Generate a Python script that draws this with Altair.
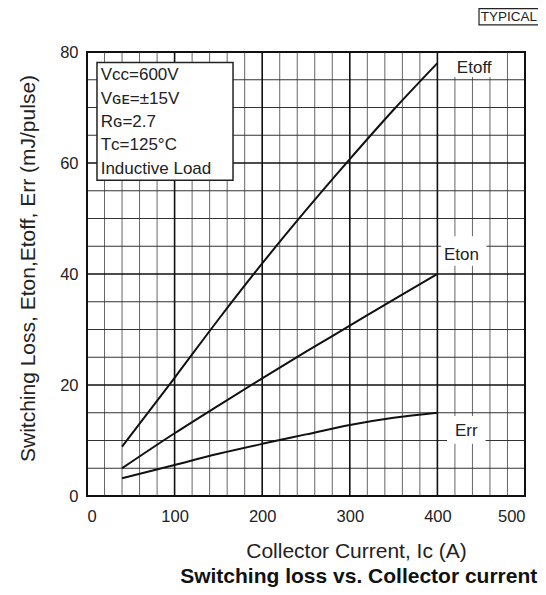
import altair as alt
import pandas as pd

# ---- data ----
current = [40, 100, 150, 200, 250, 300, 350, 400]
etoff = [8.9, 21.3, 31.8, 41.9, 51.5, 60.7, 69.6, 78.0]
eton = [5.0, 11.3, 16.3, 21.2, 26.0, 30.7, 35.4, 40.0]
err = [3.2, 5.6, 7.6, 9.4, 11.1, 12.8, 14.1, 15.0]

x_minor = [v for v in range(0, 501, 20) if v % 100 != 0]
x_major = [0, 100, 200, 300, 400, 500]
y_minor = [v for v in range(0, 81, 5) if v % 20 != 0]
y_major = [0, 20, 40, 60, 80]
x_ticks = [0, 100, 200, 300, 400, 500]
y_ticks = [0, 20, 40, 60, 80]

cond_lines = ["V\u1d04\u1d04=600V", "V\u0262\u1d07=\u00b115V", "R\u0262=2.7",
              "T\u1d04=125\u00b0C", "Inductive Load"]
cond_y = [75.9, 71.6, 67.4, 63.2, 58.9]

curve_names = ["Etoff", "Eton", "Err"]
label_x = [442.0, 427.5, 433.0]
label_y = [77.2, 43.4, 11.8]
box_x = [418, 404, 411]
box_x2 = [470, 456, 455]
box_y = [75.5, 41.5, 9.4]
box_y2 = [79.8, 46.8, 14.4]

FONT = "Liberation Sans"

xs = alt.Scale(domain=[0, 500], nice=False, zero=False)
ys = alt.Scale(domain=[0, 80], nice=False, zero=False)

x_axis = alt.Axis(values=x_ticks, grid=False, ticks=False, domain=False,
                  labelFont=FONT, labelFontSize=16.5, labelColor="#222",
                  labelPadding=12,
                  title="Collector Current, I\u1d04 (A)",
                  titleFont=FONT, titleFontSize=21, titleFontWeight="normal",
                  titleColor="#222", titleX=269, titleY=55,
                  titleBaseline="middle", titleAlign="center")
y_axis = alt.Axis(values=y_ticks, grid=False, ticks=False, domain=False,
                  labelFont=FONT, labelFontSize=16.5, labelColor="#222",
                  labelPadding=9,
                  title="Switching Loss, Eton,Etoff, Err (mJ/pulse)",
                  titleFont=FONT, titleFontSize=21, titleFontWeight="normal",
                  titleColor="#222", titleAngle=270, titleX=-59, titleY=216,
                  titleBaseline="middle", titleAlign="center")


def X(field):
    return alt.X(field, type="quantitative", scale=xs, axis=x_axis)


def Y(field):
    return alt.Y(field, type="quantitative", scale=ys, axis=y_axis)


rows = []
for name, vals in zip(curve_names, [etoff, eton, err]):
    for c, v in zip(current, vals):
        rows.append({"curve": name, "Ic": c, "E": v})
curves_df = pd.DataFrame(rows)

vminor = alt.Chart(pd.DataFrame({"v": x_minor})).mark_rule(color="#666", strokeWidth=1).encode(x=X("v"))
vmajor = alt.Chart(pd.DataFrame({"v": x_major})).mark_rule(color="#111", strokeWidth=1.6).encode(x=X("v"))
hminor = alt.Chart(pd.DataFrame({"v": y_minor})).mark_rule(color="#333", strokeWidth=1.2).encode(y=Y("v"))
hmajor = alt.Chart(pd.DataFrame({"v": y_major})).mark_rule(color="#111", strokeWidth=1.6).encode(y=Y("v"))

lines = alt.Chart(curves_df).mark_line(color="#111", strokeWidth=2, interpolate="monotone").encode(
    x=X("Ic"), y=Y("E"), detail="curve:N")

lab_df = pd.DataFrame({"name": curve_names, "x": label_x, "y": label_y,
                       "bx": box_x, "bx2": box_x2, "by": box_y, "by2": box_y2})
lab_boxes = alt.Chart(lab_df).mark_rect(color="white").encode(
    x=X("bx"), x2="bx2:Q", y=Y("by"), y2="by2:Q")
lab_text = alt.Chart(lab_df).mark_text(font=FONT, fontSize=17, color="#222", align="center",
                                       baseline="middle").encode(
    x=X("x"), y=Y("y"), text="name:N")

cond_box = alt.Chart(pd.DataFrame({"x": [11.4], "x2": [166.7], "y": [56.9], "y2": [78.1]})).mark_rect(
    fill="white", stroke="#222", strokeWidth=1.5).encode(
    x=X("x"), x2="x2:Q", y=Y("y"), y2="y2:Q")
cond_text = alt.Chart(pd.DataFrame({"t": cond_lines, "y": cond_y, "x": [15.6] * 5})).mark_text(
    font=FONT, fontSize=17, color="#222", align="left", baseline="middle").encode(
    x=X("x"), y=Y("y"), text="t:N")

typ_box = alt.Chart(pd.DataFrame({"x": [447.5], "x2": [516.0], "y": [84.9], "y2": [87.8]})).mark_rect(
    fill="white", stroke="#222", strokeWidth=1.2).encode(
    x=X("x"), x2="x2:Q", y=Y("y"), y2="y2:Q")
typ_text = alt.Chart(pd.DataFrame({"t": ["TYPICAL"], "x": [481.7], "y": [86.35]})).mark_text(
    font=FONT, fontSize=13.5, color="#222", align="center", baseline="middle").encode(
    x=X("x"), y=Y("y"), text="t:N")

main_title = alt.Chart(pd.DataFrame({"t": ["Switching loss vs. Collector current"],
                                     "x": [514.0], "y": [-14.6]})).mark_text(
    font=FONT, fontSize=21, fontWeight="bold", color="#111", align="right",
    baseline="middle").encode(
    x=X("x"), y=Y("y"), text="t:N")

chart = alt.layer(vminor, hminor, vmajor, hmajor, lines, lab_boxes, lab_text,
                  cond_box, cond_text, typ_box, typ_text, main_title).properties(
    width=438, height=444,
    autosize=alt.AutoSizeParams(type="none"),
    padding={"left": 79, "top": 44, "right": 13, "bottom": 91},
    background="white",
).configure_view(stroke="#111", strokeWidth=2)

chart.save("out.html", embed_options={"renderer": "svg", "actions": False})
